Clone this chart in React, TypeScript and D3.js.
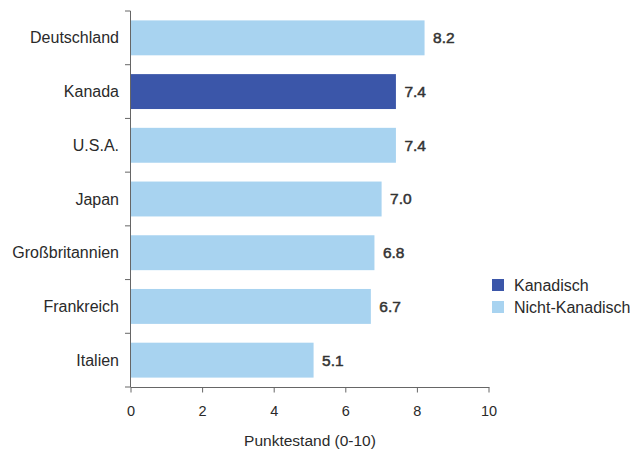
import React from "react";
import * as d3 from "d3";

const categories = ["Deutschland", "Kanada", "U.S.A.", "Japan", "Großbritannien", "Frankreich", "Italien"];
const values = [8.2, 7.4, 7.4, 7.0, 6.8, 6.7, 5.1];
const groups = ["Nicht-Kanadisch", "Kanadisch", "Nicht-Kanadisch", "Nicht-Kanadisch", "Nicht-Kanadisch", "Nicht-Kanadisch", "Nicht-Kanadisch"];
const legendItems = ["Kanadisch", "Nicht-Kanadisch"];
const xTicks = [0, 2, 4, 6, 8, 10];
const xTitle = "Punktestand (0-10)";

const W = 632;
const H = 451;
const FONT = "'Liberation Sans', Arial, Helvetica, sans-serif";

export default function App() {
  const x = d3.scaleLinear().domain([0, 10]).range([131, 489]);
  const y = d3.scaleBand<string>().domain(categories).range([11, 387]).paddingInner(0.35).paddingOuter(0.175);
  const color = d3.scaleOrdinal<string, string>().domain(legendItems).range(["#3b56a9", "#a8d3f0"]);
  const step = y.step();
  const boundaries = d3.range(categories.length + 1).map((i) => 11 + i * step);
  const axisColor = "#666";
  const textColor = "#2a2a2a";

  return (
    <svg width={W} height={H} style={{ position: "absolute", left: 0, top: 0, background: "#fff" }} fontFamily={FONT}>
      {/* bars */}
      {categories.map((c, i) => (
        <rect key={c} x={x(0)} y={y(c)!} width={x(values[i]) - x(0)} height={y.bandwidth()} fill={color(groups[i])} />
      ))}
      {/* value labels */}
      {categories.map((c, i) => (
        <text key={c + "v"} x={x(values[i]) + 8.5} y={y(c)! + y.bandwidth() / 2} dy="0.35em" fontSize={15.5} fill="#333" stroke="#333" strokeWidth={0.5}>
          {values[i].toFixed(1)}
        </text>
      ))}
      {/* y axis */}
      <line x1={130.5} x2={130.5} y1={11} y2={387} stroke={axisColor} strokeWidth={1} />
      {boundaries.map((b, i) => (
        <line key={"yt" + i} x1={125} x2={130.5} y1={b} y2={b} stroke={axisColor} strokeWidth={1} />
      ))}
      {categories.map((c) => (
        <text key={c + "l"} x={119} y={y(c)! + y.bandwidth() / 2} dy="0.35em" textAnchor="end" fontSize={16} fill={textColor}>
          {c}
        </text>
      ))}
      {/* x axis */}
      <line x1={130.5} x2={489.5} y1={387.5} y2={387.5} stroke={axisColor} strokeWidth={1} />
      {xTicks.map((t) => (
        <g key={"xt" + t}>
          <line x1={x(t)} x2={x(t)} y1={387.5} y2={392.5} stroke={axisColor} strokeWidth={1} />
          <text x={x(t)} y={410.5} dy="0.35em" textAnchor="middle" fontSize={14.5} fill={textColor}>
            {t}
          </text>
        </g>
      ))}
      <text x={310} y={441} dy="0.35em" textAnchor="middle" fontSize={15.5} fill={textColor}>
        {xTitle}
      </text>
      {/* legend */}
      {legendItems.map((g, i) => (
        <g key={g} transform={`translate(492, ${279 + i * 22})`}>
          <rect x={0} y={0} width={12} height={12} fill={color(g)} />
          <text x={22} y={6} dy="0.35em" fontSize={16} fill={textColor}>
            {g}
          </text>
        </g>
      ))}
    </svg>
  );
}
